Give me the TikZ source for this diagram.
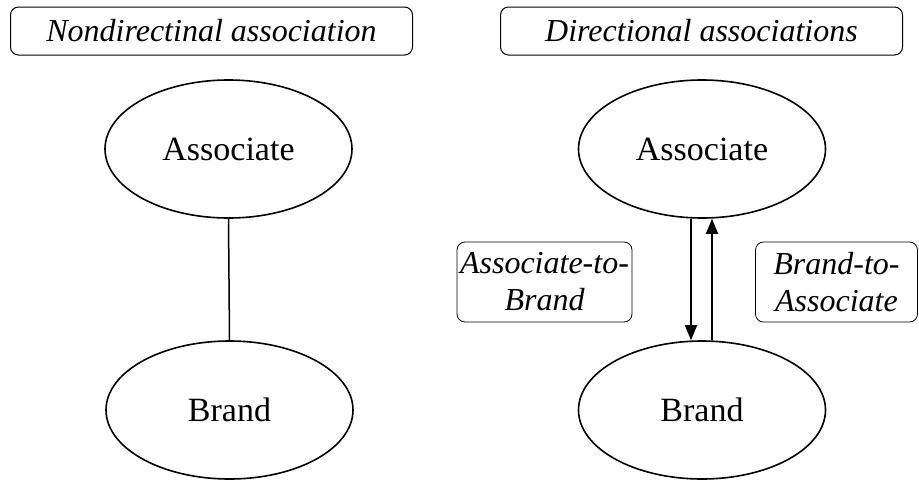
\documentclass[tikz,border=0pt]{standalone}
\usepackage{fontspec}
\setmainfont{Liberation Serif}[ItalicFont={Liberation Serif Italic},BoldFont={Liberation Serif Bold}]
\usetikzlibrary{shapes.geometric,arrows.meta}
\begin{document}
\begin{tikzpicture}[x=1pt,y=-1pt,
  titlebox/.style={draw,rounded corners=8pt,line width=1pt,minimum width=402pt,minimum height=48pt,inner sep=0pt,font=\fontsize{32}{36}\selectfont\itshape},
  labelbox/.style={draw,rounded corners=8pt,line width=0.8pt,minimum height=80pt,inner sep=0pt,align=center,font=\fontsize{32}{37}\selectfont\itshape},
  oval/.style={draw,ellipse,line width=1.6pt,minimum width=247pt,minimum height=138pt,inner sep=0pt,font=\fontsize{34}{38}\selectfont},
  arr/.style={line width=1.8pt,-{Triangle[length=15pt,width=12pt]}},
  arrthin/.style={line width=1.3pt,-{Triangle[length=15pt,width=12pt]}}]
\useasboundingbox (0,0) rectangle (919,480);
\node[titlebox] (t1) at (211.5,31) {Nondirectinal association};
\node[titlebox] (t2) at (701.5,31) {Directional associations};
\node[oval] (aL) at (228.5,149) {Associate};
\node[oval] (bL) at (229.5,410) {Brand};
\node[oval] (aR) at (702,149) {Associate};
\node[oval] (bR) at (702,410) {Brand};
\draw[line width=1.5pt] (aL.south) -- (bL.north);
\draw[arr] ([xshift=-11pt]aR.south) -- ([xshift=-11pt]bR.north);
\draw[arrthin] ([xshift=10pt]bR.north) -- ([xshift=10pt]aR.south);
\node[labelbox,minimum width=175pt] (l1) at (544.5,282) {Associate-to-\\Brand};
\node[labelbox,minimum width=162pt] (l2) at (836.5,282) {Brand-to-\\Associate};
\end{tikzpicture}
\end{document}
